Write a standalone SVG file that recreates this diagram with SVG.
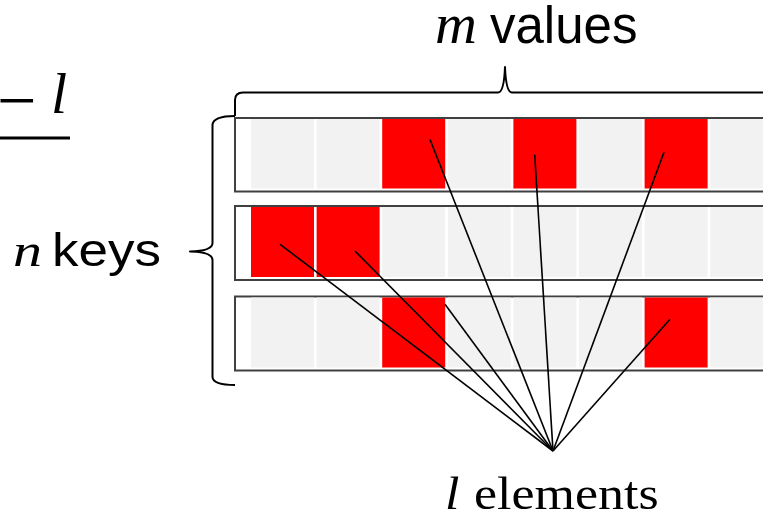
<svg xmlns="http://www.w3.org/2000/svg" width="763" height="517" viewBox="0 0 763 517">
<style>
.row{fill:#ffffff;stroke:#404040;stroke-width:2}
.g{fill:#f2f2f2}
.r{fill:#ff0000}
.br{fill:none;stroke:#000;stroke-width:2;stroke-linejoin:round}
.cn{stroke:#000;stroke-width:1.6;fill:none}
.sans{font-family:"Liberation Sans",Arial,sans-serif;fill:#000}
.ser{font-family:"Liberation Serif","Times New Roman",serif;fill:#000}
.it{font-style:italic}
</style>
<rect width="763" height="517" fill="#ffffff"/>
<g id="row1">
<rect class="row" x="235" y="118" width="560" height="73.5"/>
<rect class="g" x="251" y="119" width="63" height="69.5"/>
<rect class="g" x="316.6" y="119" width="63" height="69.5"/>
<rect class="r" x="382.2" y="119" width="63" height="69.5"/>
<rect class="g" x="447.8" y="119" width="63" height="69.5"/>
<rect class="r" x="513.4" y="119" width="63" height="69.5"/>
<rect class="g" x="579" y="119" width="63" height="69.5"/>
<rect class="r" x="644.6" y="119" width="63" height="69.5"/>
<rect class="g" x="710.2" y="119" width="63" height="69.5"/>
</g>
<g id="row2">
<rect class="row" x="235" y="206" width="560" height="74"/>
<rect class="r" x="251" y="207" width="63" height="70"/>
<rect class="r" x="316.6" y="207" width="63" height="70"/>
<rect class="g" x="382.2" y="207" width="63" height="70"/>
<rect class="g" x="447.8" y="207" width="63" height="70"/>
<rect class="g" x="513.4" y="207" width="63" height="70"/>
<rect class="g" x="579" y="207" width="63" height="70"/>
<rect class="g" x="644.6" y="207" width="63" height="70"/>
<rect class="g" x="710.2" y="207" width="63" height="70"/>
</g>
<g id="row3">
<rect class="row" x="235" y="296.5" width="560" height="74"/>
<rect class="g" x="251" y="297.5" width="63" height="70"/>
<rect class="g" x="316.6" y="297.5" width="63" height="70"/>
<rect class="r" x="382.2" y="297.5" width="63" height="70"/>
<rect class="g" x="447.8" y="297.5" width="63" height="70"/>
<rect class="g" x="513.4" y="297.5" width="63" height="70"/>
<rect class="g" x="579" y="297.5" width="63" height="70"/>
<rect class="r" x="644.6" y="297.5" width="63" height="70"/>
<rect class="g" x="710.2" y="297.5" width="63" height="70"/>
</g>
<g id="braces">
<path class="br" d="M235,116 L235,100 Q235,92.5 243,92.5 L498,92.5 Q504,92.5 505,67 Q506,92.5 512,92.5 L767,92.5 Q775,92.5 775,100 L775,116"/>
<path class="br" d="M235,116 Q213,116 212.5,125 L212.5,243 Q212.5,251 190,251.5 Q212.5,252 212.5,260 L212.5,377 Q213,385 235,385"/>
</g>
<g id="connectors">
<line class="cn" x1="430" y1="139.5" x2="553" y2="451"/>
<line class="cn" x1="534.7" y1="154.7" x2="553" y2="451"/>
<line class="cn" x1="664" y1="152.3" x2="553" y2="451"/>
<line class="cn" x1="280" y1="244.3" x2="553" y2="451"/>
<line class="cn" x1="355" y1="251" x2="553" y2="451"/>
<line class="cn" x1="445" y1="304.3" x2="553" y2="451"/>
<line class="cn" x1="670" y1="319.3" x2="553" y2="451"/>
</g>
<g id="labels">
<text class="ser it" x="435" y="43" font-size="58">m</text>
<text class="sans" x="490" y="43" font-size="51">values</text>
<text class="ser it" transform="translate(13,266) scale(1,0.8)" font-size="58">n</text>
<text class="sans" transform="translate(52,266) scale(1,0.86)" font-size="53">keys</text>
<text class="ser it" transform="translate(445,509) scale(1,0.9)" font-size="52">l</text>
<text class="ser" transform="translate(474,509) scale(1,0.9)" font-size="52">elements</text>
<text class="ser" x="-3" y="124" font-size="70">−</text>
<text class="ser it" x="51" y="113" font-size="58">l</text>
<line x1="0" y1="138" x2="70" y2="138" stroke="#000" stroke-width="3"/>
</g>
</svg>
